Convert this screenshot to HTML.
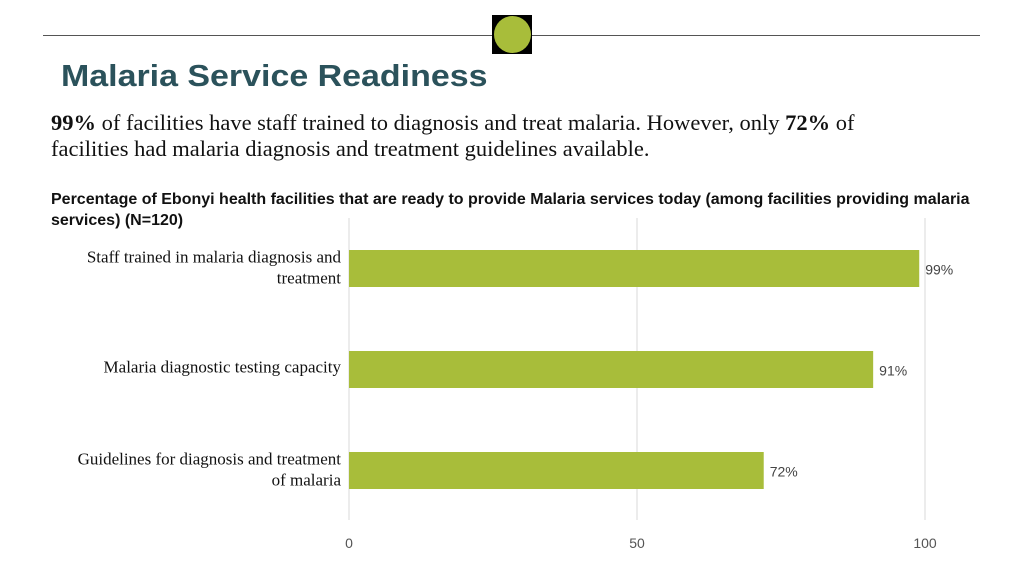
<!DOCTYPE html>
<html><head><meta charset="utf-8"><style>
body{margin:0;width:1024px;height:576px;background:#fff;position:relative;overflow:hidden;font-family:"Liberation Sans",sans-serif}
.abs{position:absolute}
</style></head><body>
<div class="abs" style="left:43px;top:35px;width:937px;height:1px;background:#555"></div>
<div class="abs" style="left:492px;top:15px;width:40px;height:39px;background:#000"><div style="margin:1px 2px;width:37px;height:37px;border-radius:50%;background:#a8bd3a"></div></div>
<div class="abs" style="left:61px;top:58px;font-size:31px;font-weight:bold;color:#2b525b;transform:scaleX(1.095);transform-origin:left top">Malaria Service Readiness</div>
<div class="abs" style="left:51px;top:110px;width:845px;font-family:'Liberation Serif',serif;font-size:22.5px;line-height:26px;color:#111"><b>99%</b> of facilities have staff trained to diagnosis and treat malaria. However, only <b>72%</b> of facilities had malaria diagnosis and treatment guidelines available.</div>
<div class="abs" style="left:51px;top:189px;width:935px;font-size:16px;font-weight:bold;line-height:21px;color:#111">Percentage of Ebonyi health facilities that are ready to provide Malaria services today (among facilities providing malaria services) (N=120)</div>
<svg class="abs" style="left:0;top:0" width="1024" height="576" id="chart"></svg>
<script>
const categories=[["Staff trained in malaria diagnosis and","treatment"],["Malaria diagnostic testing capacity"],["Guidelines for diagnosis and treatment","of malaria"]];
const values=[99,91,72];
const ticks=[0,50,100];
const svg=document.getElementById('chart');const NS='http://www.w3.org/2000/svg';
const x=v=>349+v*(925-349)/100;
const yc=i=>268.5+i*101;
function mk(t,a){const e=document.createElementNS(NS,t);for(const k in a)e.setAttribute(k,a[k]);svg.appendChild(e);return e;}
ticks.forEach(t=>{
const g=mk('line',{x1:x(t),x2:x(t),y1:218,y2:520,stroke:'#d9d9d9','stroke-width':1});


const l=mk('text',{x:x(t),y:548,'text-anchor':'middle','font-size':14,fill:'#555','font-family':'Liberation Sans, sans-serif'});l.textContent=t;


});
values.forEach((v,i)=>{
const b=mk('rect',{x:x(0),y:yc(i)-18.5,width:x(v)-x(0),height:37,fill:'#a8bd3a'});


const t=mk('text',{x:x(v)+6,y:yc(i)+6,'font-size':14,fill:'#444','font-family':'Liberation Sans, sans-serif'});t.textContent=v+'%';


const lines=categories[i];
lines.forEach((s,j)=>{
const c=mk('text',{x:341,y:yc(i)-6+j*21+(lines.length==1?9:0),'text-anchor':'end','font-size':17,fill:'#111','font-family':'Liberation Serif, serif'});c.textContent=s;


});
});
</script>
</body></html>
